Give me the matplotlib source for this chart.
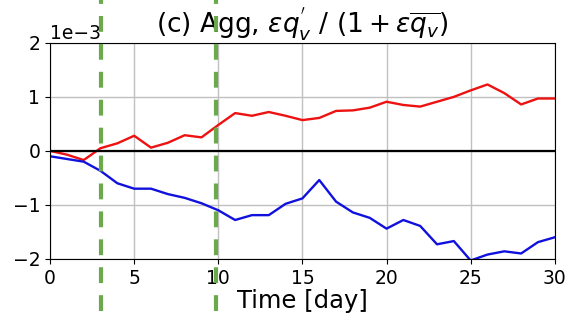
import numpy as np
import matplotlib
matplotlib.use("Agg")
import matplotlib.pyplot as plt

# dias de simulacion
dias = list(range(31))

# anomalia agregada (x 1e-3)
serie_roja = [0.00, -0.07, -0.17, 0.05, 0.14, 0.28, 0.06, 0.15, 0.29, 0.25,
              0.48, 0.70, 0.65, 0.72, 0.65, 0.57, 0.61, 0.74, 0.75, 0.80,
              0.91, 0.85, 0.82, 0.91, 1.00, 1.12, 1.23, 1.07, 0.86, 0.97, 0.97]
serie_azul = [-0.10, -0.15, -0.20, -0.37, -0.60, -0.70, -0.70, -0.80, -0.87, -0.97,
              -1.10, -1.28, -1.19, -1.19, -0.98, -0.88, -0.54, -0.94, -1.14, -1.24,
              -1.44, -1.28, -1.39, -1.73, -1.67, -2.03, -1.92, -1.86, -1.90, -1.69, -1.60]

# dias marcados con linea verde
dias_marcados = [3.03, 9.86]

escala = 1e-3
roja = np.array(serie_roja) * escala
azul = np.array(serie_azul) * escala

fig = plt.figure(figsize=(5.69, 3.2), dpi=100)
ax = fig.add_axes([0.088, 0.191, 0.887, 0.675])

ax.plot(dias, roja, color="#ee1111", lw=1.7)
ax.plot(dias, azul, color="#1111dd", lw=1.7)
ax.axhline(0, color="black", lw=1.6)

for d in dias_marcados:
    ax.axvline(d, ymin=-0.24, ymax=1.2, color="#6aaa4c", lw=3,
               dashes=(3.8, 2.9), clip_on=False, zorder=5)

ax.set_xlim(0, 30)
ax.set_ylim(-2 * escala, 2 * escala)
ax.set_xticks(range(0, 31, 5))
ax.set_yticks(np.arange(-2, 3) * escala)
ax.ticklabel_format(axis="y", style="sci", scilimits=(0, 0))
ax.grid(True, color="#c0c0c0", lw=1)
ax.tick_params(labelsize=13.5)
ax.yaxis.get_offset_text().set_fontsize(13.5)
ax.set_xlabel("Time [day]", fontsize=17.5, labelpad=1)
ax.set_title(r"(c) Agg, $\varepsilon q_v^{'}$ / $(1 + \varepsilon\overline{q_v})$",
             fontsize=19, pad=4)

fig.savefig("out.png", dpi=100)
